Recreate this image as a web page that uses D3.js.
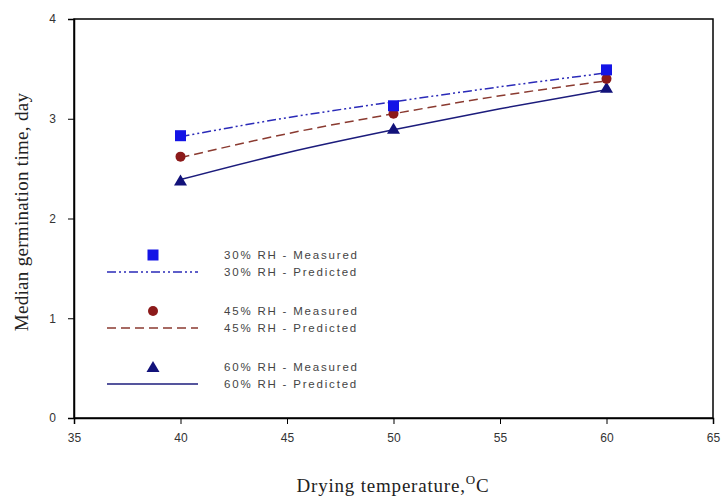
<!DOCTYPE html>
<html>
<head>
<meta charset="utf-8">
<script src="https://cdn.jsdelivr.net/npm/d3@7"></script>
<style>
  body { margin: 0; background: #fff; }
  svg { display: block; }
</style>
</head>
<body>
<svg id="chart" width="727" height="503"></svg>
<script>
// ---- data ----
const temps = [40, 50, 60];
const measured30 = [2.83, 3.13, 3.49];
const measured45 = [2.62, 3.05, 3.40];
const measured60 = [2.38, 2.90, 3.31];

const predTemps = [40, 45, 50, 55, 60];
const predicted30 = [2.82, 3.01, 3.17, 3.32, 3.46];
const predicted45 = [2.61, 2.85, 3.05, 3.23, 3.38];
const predicted60 = [2.39, 2.66, 2.89, 3.10, 3.29];

const xTicks = [35, 40, 45, 50, 55, 60, 65];
const yTicks = [0, 1, 2, 3, 4];
const seriesLabels = ["30% RH", "45% RH", "60% RH"];

(function () {
// ---- layout ----
const svg = d3.select("#chart");
const pL = 74, pR = 713, pT = 19, pB = 418;
const x = d3.scaleLinear().domain([35, 65]).range([pL, pR]);
const y = d3.scaleLinear().domain([0, 4]).range([pB, pT]);

const styles = [
  { meas: measured30, pred: predicted30, marker: "square", mcol: "#1414e6", lcol: "#2a2ab8", dash: "9,3,2,3,2,3" },
  { meas: measured45, pred: predicted45, marker: "circle", mcol: "#8c1a1a", lcol: "#8a3a30", dash: "9,5" },
  { meas: measured60, pred: predicted60, marker: "triangle", mcol: "#12127a", lcol: "#1c1c7c", dash: null }
];

// frame
svg.append("rect").attr("x", pL).attr("y", pT)
  .attr("width", pR - pL).attr("height", pB - pT)
  .attr("fill", "none").attr("stroke", "#000").attr("stroke-width", 1.5);

// axes
const xAxis = svg.append("g").attr("transform", `translate(0,${pB})`)
  .call(d3.axisBottom(x).tickValues(xTicks).tickSize(6).tickPadding(9));
const yAxis = svg.append("g").attr("transform", `translate(${pL},0)`)
  .call(d3.axisLeft(y).tickValues(yTicks).tickFormat(d3.format("d")).tickSize(6).tickPadding(12));
[xAxis, yAxis].forEach(g => {
  g.select(".domain").attr("stroke", "#000").attr("stroke-width", 1.5);
  g.selectAll(".tick line").attr("stroke", "#000").attr("stroke-width", 1);
  g.selectAll(".tick text").attr("font-family", "Liberation Sans, Arial, sans-serif")
    .attr("font-size", 12).attr("fill", "#333");
});

// axis titles
const xt = svg.append("text").attr("x", 393).attr("y", 492)
  .attr("text-anchor", "middle")
  .attr("font-family", "Liberation Serif, Times New Roman, serif")
  .attr("font-size", 19).attr("letter-spacing", 0.8).attr("fill", "#222");
xt.append("tspan").text("Drying temperature,");
xt.append("tspan").attr("font-size", 13).attr("dy", -8).text("O");
xt.append("tspan").attr("dy", 8).text("C");

svg.append("text")
  .attr("transform", `translate(28,212) rotate(-90)`)
  .attr("text-anchor", "middle")
  .attr("font-family", "Liberation Serif, Times New Roman, serif")
  .attr("font-size", 19).attr("letter-spacing", 0.3).attr("fill", "#222")
  .text("Median germination time, day");

// lines
const line = d3.line().x(d => x(d[0])).y(d => y(d[1])).curve(d3.curveMonotoneX);

function drawMarker(g, type, cx, cy, col) {
  if (type === "square") {
    g.append("rect").attr("x", cx - 5.5).attr("y", cy - 5.5).attr("width", 11).attr("height", 11).attr("fill", col);
  } else if (type === "circle") {
    g.append("circle").attr("cx", cx).attr("cy", cy).attr("r", 5).attr("fill", col);
  } else {
    g.append("path").attr("d", `M${cx},${cy - 6}L${cx + 6.5},${cy + 5}L${cx - 6.5},${cy + 5}Z`).attr("fill", col);
  }
}

const plot = svg.append("g");
styles.forEach(s => {
  const p = plot.append("path").datum(predTemps.map((t, i) => [t, s.pred[i]]))
    .attr("d", line).attr("fill", "none").attr("stroke", s.lcol).attr("stroke-width", 1.5);
  if (s.dash) p.attr("stroke-dasharray", s.dash);
});
styles.slice().reverse().forEach(s => {
  temps.forEach((t, i) => drawMarker(plot, s.marker, x(t), y(s.meas[i]), s.mcol));
});

// legend
const leg = svg.append("g");
const rowY = [255, 311, 367];
styles.forEach((s, i) => {
  const my = rowY[i], ly = my + 17;
  drawMarker(leg, s.marker, 153, my, s.mcol);
  const lp = leg.append("line").attr("x1", 107).attr("x2", 198).attr("y1", ly).attr("y2", ly)
    .attr("stroke", s.lcol).attr("stroke-width", 1.5);
  if (s.dash) lp.attr("stroke-dasharray", s.dash);
  [[my, " - Measured"], [ly, " - Predicted"]].forEach(([ty, suf]) => {
    leg.append("text").attr("x", 224).attr("y", ty + 4)
      .attr("font-family", "Liberation Sans, Arial, sans-serif").attr("font-size", 11.5)
      .attr("letter-spacing", 1.8).attr("fill", "#444")
      .text(seriesLabels[i] + suf);
  });
});
})();
</script>
</body>
</html>
